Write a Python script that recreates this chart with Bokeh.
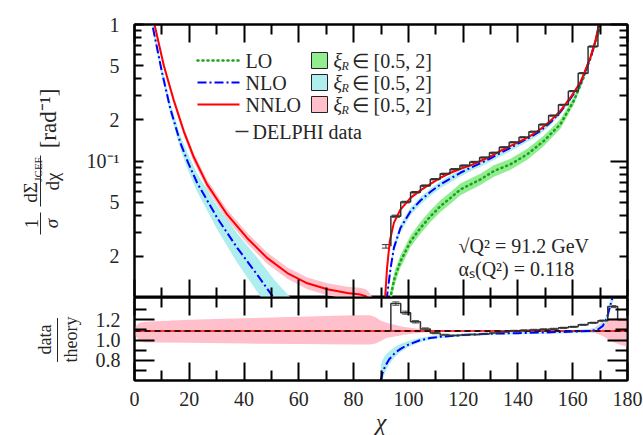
import math
from bokeh.plotting import figure
from bokeh.layouts import column, row
from bokeh.models import (Range1d, FixedTicker, LogAxis, LinearAxis, Label, Whisker, TeeHead,
                          ColumnDataSource, Arrow, BoxAnnotation)
from bokeh.embed import file_html
from bokeh.resources import INLINE

FONT = "Liberation Serif"
TXT = "#262626"

LO_COL, NLO_COL, NNLO_COL = "#1f9e1f", "#0000ff", "#ff0000"
LO_BAND, NLO_BAND, NNLO_BAND = "#90ee90", "#afeeee", "#ffc0cb"

# ---------------- ticks ----------------
x_ticks = [0, 20, 40, 60, 80, 100, 120, 140, 160, 180]
x_minor = [10, 30, 50, 70, 90, 110, 130, 150, 170]
y_ticks = [0.02, 0.05, 0.1, 0.2, 0.5, 1.0]
y_tick_labels = ["2", "5", "10⁻¹", "2", "5", "1"]
y_minor = [0.01, 0.03, 0.04, 0.06, 0.07, 0.08, 0.09, 0.3, 0.4, 0.6, 0.7, 0.8, 0.9]
y_decades = [0.01, 0.1, 1.0]
y_sub = [0.02, 0.03, 0.04, 0.05, 0.06, 0.07, 0.08, 0.09, 0.2, 0.3, 0.4, 0.5, 0.6, 0.7, 0.8, 0.9]
r_ticks = [0.8, 1.0, 1.2]
r_tick_labels = ["0.8", "1.0", "1.2"]
r_minor = [0.7, 0.9, 1.1, 1.3]

# ---------------- legend texts ----------------
line_labels = ["LO", "NLO", "NNLO"]
band_label = "∈ [0.5, 2]"
data_label = "DELPHI data"

# ---------------- main panel: left branch ----------------
nnlo_l_x = [6.0, 7.3, 10.7, 14.3, 18.0, 21.7, 26.5, 33.8, 41.1, 48.4, 55.8, 63.1, 70.4, 77.7, 82.5, 84.5, 86.0, 87.5]
nnlo_l_y = [1.25, 1.0, 0.50, 0.28, 0.165, 0.106, 0.0674, 0.0406, 0.0273, 0.0195, 0.0151, 0.0127, 0.0115, 0.0108, 0.0105, 0.0102, 0.0095, 0.0085]
nnlo_l_lo = [1.18, 0.95, 0.472, 0.263, 0.154, 0.098, 0.0620, 0.0372, 0.0249, 0.0177, 0.0137, 0.0115, 0.0104, 0.0097, 0.0093, 0.0088, 0.0080, 0.0070]
nnlo_l_hi = [1.32, 1.05, 0.530, 0.298, 0.177, 0.114, 0.0730, 0.0442, 0.0298, 0.0214, 0.0166, 0.0140, 0.0127, 0.0120, 0.0118, 0.0115, 0.0107, 0.0095]

nlo_l_x = [5.3, 6.5, 10.0, 13.0, 16.8, 19.5, 22.9, 30.2, 37.5, 44.8, 50.9, 53.0, 57.0]
nlo_l_y = [1.25, 1.0, 0.45, 0.245, 0.135, 0.098, 0.0690, 0.0383, 0.0231, 0.0147, 0.0099, 0.0088, 0.0072]
nlo_l_lo = [1.15, 0.93, 0.415, 0.224, 0.121, 0.086, 0.0595, 0.0315, 0.0180, 0.0110, 0.0072, 0.0063, 0.0050]
nlo_l_hi = [1.36, 1.08, 0.490, 0.270, 0.152, 0.113, 0.0805, 0.0470, 0.0295, 0.0196, 0.0136, 0.0122, 0.0100]

# ---------------- main panel: right branch ----------------
nnlo_r_x = [91.3, 92.2, 93.2, 94.7, 97.1, 100.8, 104.4, 108.1, 111.7, 115.4, 119.0, 122.7, 126.3, 130.0,
            133.6, 137.3, 140.9, 144.6, 148.2, 151.9, 155.5, 159.2, 162.8, 166.5, 168.3, 169.5, 170.5]
nnlo_r_y = [0.0085, 0.0164, 0.0258, 0.0352, 0.0441, 0.0537, 0.0609, 0.0681, 0.0754, 0.0820, 0.0878, 0.0929,
            0.100, 0.108, 0.1185, 0.129, 0.140, 0.153, 0.171, 0.197, 0.233, 0.292, 0.377, 0.575, 0.762, 0.98, 1.2]
nnlo_r_lo = [0.0082, 0.0159, 0.0251, 0.0344, 0.0432, 0.0527, 0.0598, 0.0670, 0.0742, 0.0808, 0.0865, 0.0916,
             0.0986, 0.1065, 0.1169, 0.1272, 0.1381, 0.1510, 0.1688, 0.1945, 0.230, 0.288, 0.372, 0.567, 0.752, 0.967, 1.18]
nnlo_r_hi = [0.0088, 0.0169, 0.0265, 0.0360, 0.0450, 0.0547, 0.0620, 0.0692, 0.0766, 0.0832, 0.0891, 0.0942,
             0.1014, 0.1095, 0.1201, 0.1308, 0.1419, 0.1550, 0.1732, 0.1995, 0.236, 0.296, 0.382, 0.583, 0.772, 0.993, 1.22]

nlo_r_x = [92.0, 93.5, 94.7, 97.1, 100.8, 104.4, 108.1, 111.7, 115.4, 119.0, 122.7, 126.3, 130.0, 133.6,
           137.3, 140.9, 144.6, 148.2, 151.9, 155.5, 159.2, 162.8, 166.5, 168.3, 169.6, 170.6]
nlo_r_y = [0.0095, 0.0164, 0.0231, 0.0323, 0.0429, 0.0514, 0.0595, 0.0673, 0.0746, 0.0820, 0.0893, 0.0962,
           0.1047, 0.1145, 0.125, 0.137, 0.150, 0.166, 0.192, 0.229, 0.287, 0.370, 0.565, 0.755, 0.98, 1.2]
nlo_r_lo = [0.0086, 0.0150, 0.0213, 0.0300, 0.0400, 0.0480, 0.0557, 0.0631, 0.0700, 0.0771, 0.0840, 0.0906,
            0.0987, 0.1080, 0.1180, 0.1295, 0.1420, 0.1575, 0.1825, 0.2180, 0.2740, 0.3540, 0.5430, 0.7270, 0.9450, 1.16]
nlo_r_hi = [0.0104, 0.0177, 0.0249, 0.0345, 0.0456, 0.0545, 0.0630, 0.0712, 0.0789, 0.0866, 0.0942, 0.1015,
            0.1104, 0.1207, 0.1317, 0.1443, 0.1578, 0.1745, 0.2015, 0.2400, 0.3005, 0.3870, 0.5900, 0.7850, 1.02, 1.24]

lo_r_x = [93.3, 95.0, 97.1, 100.8, 104.4, 108.1, 111.7, 115.4, 119.0, 122.7, 126.3, 131.2, 137.3, 143.4,
          149.4, 155.5, 160.4, 164.0, 167.7, 169.5, 170.4, 171.2]
lo_r_y = [0.0098, 0.0140, 0.0184, 0.0258, 0.0323, 0.0394, 0.0467, 0.0537, 0.0619, 0.0674, 0.0733, 0.0844,
          0.0946, 0.112, 0.140, 0.186, 0.276, 0.410, 0.681, 0.90, 1.05, 1.2]
lo_r_lo = [0.0085, 0.0124, 0.0165, 0.0234, 0.0293, 0.0357, 0.0423, 0.0487, 0.0562, 0.0612, 0.0666, 0.0767,
           0.0862, 0.1023, 0.1285, 0.1720, 0.2580, 0.3880, 0.655, 0.875, 1.03, 1.18]
lo_r_hi = [0.0110, 0.0157, 0.0204, 0.0285, 0.0357, 0.0436, 0.0516, 0.0593, 0.0683, 0.0743, 0.0808, 0.0930,
           0.1040, 0.1230, 0.1530, 0.2020, 0.2960, 0.4350, 0.710, 0.93, 1.08, 1.23]

# ---------------- DELPHI data ----------------
bin_edges = [90.0, 93.6, 97.2, 100.8, 104.4, 108.0, 111.6, 115.2, 118.8, 122.4, 126.0, 129.6, 133.2,
             136.8, 140.4, 144.0, 147.6, 151.2, 154.8, 158.4, 162.0, 165.6, 169.2, 172.8, 176.4, 180.0]
data_main = [0.0237, 0.0394, 0.050, 0.059, 0.066, 0.0735, 0.0805, 0.087, 0.0925, 0.0985, 0.106, 0.115,
             0.126, 0.137, 0.149, 0.164, 0.185, 0.215, 0.258, 0.325, 0.44, 0.69, 1.2, 2.0, 3.0]
data_main_err = [0.0007, 0.0007, 0.0007, 0.0008, 0.0008, 0.0009, 0.0009, 0.001, 0.001, 0.001, 0.001, 0.0012,
                 0.0013, 0.0014, 0.0015, 0.0016, 0.0018, 0.002, 0.0025, 0.003, 0.004, 0.006, 0.01, 0.02, 0.03]
data_ratio = [1.09, 1.36, 1.27, 1.18, 1.11, 1.07, 1.05, 1.045, 1.05, 1.055, 1.06, 1.07, 1.08, 1.09,
              1.095, 1.10, 1.105, 1.11, 1.12, 1.13, 1.15, 1.17, 1.19, 1.33, 1.20]
data_ratio_err = [0.04, 0.017, 0.015, 0.012, 0.01, 0.008, 0.007, 0.006, 0.006, 0.006, 0.006, 0.006, 0.006,
                  0.006, 0.006, 0.006, 0.006, 0.006, 0.006, 0.006, 0.006, 0.006, 0.008, 0.01, 0.012]

# ---------------- ratio panel ----------------
ratio_ref_x = [0, 180]
ratio_ref_y = [1.09, 1.09]
r_nnlo_x = [0, 1, 2, 4, 8, 20, 40, 60, 80, 86, 88, 90, 92, 95, 98, 102, 106, 110, 130, 150, 165, 168, 171, 174, 177, 180]
r_nnlo_lo = [1.05, 1.02, 0.99, 0.975, 0.975, 0.972, 0.965, 0.96, 0.955, 0.955, 0.965, 0.99, 1.02, 1.035, 1.05,
             1.065, 1.075, 1.082, 1.086, 1.086, 1.082, 1.07, 1.04, 0.99, 0.955, 0.93]
r_nnlo_hi = [1.12, 1.15, 1.17, 1.18, 1.185, 1.20, 1.215, 1.23, 1.245, 1.245, 1.225, 1.19, 1.17, 1.15, 1.13,
             1.115, 1.105, 1.10, 1.097, 1.097, 1.10, 1.12, 1.18, 1.215, 1.22, 1.22]
r_nlo_x = [89.9, 90.5, 91.5, 93.0, 95.0, 97.0, 100.0, 104.0, 108.0, 112.0, 120.0, 130.0, 140.0, 150.0,
           160.0, 166.0, 169.0, 171.0, 172.5, 173.5, 174.3, 175.0]
r_nlo_y = [0.60, 0.67, 0.74, 0.81, 0.87, 0.91, 0.955, 0.995, 1.02, 1.033, 1.05, 1.062, 1.068, 1.075,
           1.083, 1.09, 1.10, 1.14, 1.22, 1.32, 1.40, 1.45]
r_nlo_lo = [0.55, 0.60, 0.68, 0.76, 0.83, 0.88, 0.93, 0.975, 1.005, 1.02, 1.038, 1.050, 1.056, 1.062,
            1.068, 1.072, 1.08, 1.11, 1.18, 1.27, 1.35, 1.40]
r_nlo_hi = [0.75, 0.80, 0.85, 0.89, 0.93, 0.96, 0.99, 1.02, 1.04, 1.05, 1.063, 1.074, 1.080, 1.088,
            1.098, 1.108, 1.12, 1.17, 1.26, 1.37, 1.45, 1.50]


def style_axis(ax, tick_in, minor_in, labels):
    ax.axis_line_color = "black"
    ax.axis_line_width = 2
    ax.major_tick_line_color = "black"
    ax.major_tick_line_width = 2
    ax.minor_tick_line_color = "black"
    ax.minor_tick_line_width = 2
    ax.major_tick_in = tick_in
    ax.major_tick_out = 0
    ax.minor_tick_in = minor_in
    ax.minor_tick_out = 0
    if labels:
        ax.major_label_text_font = FONT
        ax.major_label_text_font_size = "20px"
        ax.major_label_text_color = TXT
    else:
        ax.major_label_text_font_size = "0px"
        ax.major_label_text_color = None
        ax.major_label_standoff = 0


def step_xy(edges, vals):
    xs = [edges[1]] + list(edges[1:])
    ys = list(vals) + [vals[-1]]
    return xs, ys


centers = [(a + b) / 2 for a, b in zip(bin_edges[:-1], bin_edges[1:])]

# page geometry (pixels)
LW = 82           # width of the side strip holding the y-axis titles
FL = 134          # frame left
MT = 24           # main frame top
MB = 297          # main frame bottom
RB = 380          # ratio frame bottom

# ================= main figure =================
p = figure(frame_width=493, frame_height=MB - MT, x_range=Range1d(0, 180), y_range=Range1d(0.01, 1.0),
           y_axis_type="log", output_backend="svg", toolbar_location=None,
           min_border_left=FL - LW, min_border_right=16, min_border_top=MT, min_border_bottom=0)
p.grid.visible = False
p.outline_line_color = "black"
p.outline_line_width = 2

p.xaxis.ticker = FixedTicker(ticks=x_ticks, minor_ticks=x_minor)
style_axis(p.xaxis[0], 18, 10, False)
p.yaxis.ticker = FixedTicker(ticks=y_ticks, minor_ticks=y_minor)
p.yaxis.major_label_overrides = {v: s for v, s in zip(y_ticks, y_tick_labels)}
style_axis(p.yaxis[0], 9, 7, True)
p.yaxis.major_label_standoff = 15

top_ax = LinearAxis(ticker=FixedTicker(ticks=x_ticks, minor_ticks=x_minor))
style_axis(top_ax, 18, 10, False)
p.add_layout(top_ax, "above")
right_ax = LogAxis(ticker=FixedTicker(ticks=y_decades, minor_ticks=y_sub))
style_axis(right_ax, 17, 8, False)
p.add_layout(right_ax, "right")

# bands
p.varea(x=nlo_l_x, y1=nlo_l_lo, y2=nlo_l_hi, fill_color=NLO_BAND)
p.varea(x=nnlo_l_x, y1=nnlo_l_lo, y2=nnlo_l_hi, fill_color=NNLO_BAND)
p.varea(x=lo_r_x, y1=lo_r_lo, y2=lo_r_hi, fill_color=LO_BAND)
p.varea(x=nlo_r_x, y1=nlo_r_lo, y2=nlo_r_hi, fill_color=NLO_BAND)
p.varea(x=nnlo_r_x, y1=nnlo_r_lo, y2=nnlo_r_hi, fill_color=NNLO_BAND)
# lines
p.line(lo_r_x, lo_r_y, line_color=LO_COL, line_width=2.5, line_dash="1 4", line_cap="round")
p.line(nlo_l_x, nlo_l_y, line_color=NLO_COL, line_width=2, line_dash="9 3 2 3")
p.line(nlo_r_x, nlo_r_y, line_color=NLO_COL, line_width=2, line_dash="9 3 2 3")
p.line(nnlo_l_x, nnlo_l_y, line_color=NNLO_COL, line_width=2)
p.line(nnlo_r_x, nnlo_r_y, line_color=NNLO_COL, line_width=2)
# data
sx, sy = step_xy(bin_edges, data_main)
p.step(sx, sy, mode="after", line_color="#333333", line_width=1.5)
dsrc = ColumnDataSource(dict(x=centers,
                             lo=[v - e for v, e in zip(data_main, data_main_err)],
                             hi=[v + e for v, e in zip(data_main, data_main_err)]))
p.add_layout(Whisker(source=dsrc, base="x", lower="lo", upper="hi", line_color="#333333", line_width=1,
                     upper_head=TeeHead(size=8, line_color="#333333"),
                     lower_head=TeeHead(size=8, line_color="#333333")))


def lab(fig, text, ax, ay, fb, size, angle=0.0, align="center", style="normal"):
    fig.add_layout(Label(x=ax - FL, y=fb - ay, x_units="screen", y_units="screen", text=text,
                         text_font=FONT, text_font_size=size, text_color=TXT, angle=angle,
                         text_align=align, text_baseline="middle", text_font_style=style))


def seg(fig, ax0, ay0, ax1, ay1, fb, color=TXT, width=1.0, dash="solid", cap="butt"):
    fig.add_layout(Arrow(end=None, x_start=ax0 - FL, y_start=fb - ay0, x_end=ax1 - FL, y_end=fb - ay1,
                         start_units="screen", end_units="screen", line_color=color, line_width=width,
                         line_dash=dash, line_cap=cap))


def square(fig, ax, ay, fb, color):
    fig.add_layout(BoxAnnotation(left=ax - FL, right=ax + 16 - FL, top=fb - (ay - 8), bottom=fb - (ay + 8),
                                 left_units="screen", right_units="screen", top_units="screen",
                                 bottom_units="screen", fill_color=color, fill_alpha=1.0,
                                 line_color="#222222", line_width=1, line_alpha=1.0))


# ----- legend (drawn by hand) -----
rows = [60, 82, 104]
seg(p, 197, rows[0], 239, rows[0], MB, LO_COL, 2.5, "1 4", "round")
seg(p, 197, rows[1], 239, rows[1], MB, NLO_COL, 2, "9 3 2 3")
seg(p, 197, rows[2], 239, rows[2], MB, NNLO_COL, 2)
for t, yy in zip(line_labels, rows):
    lab(p, t, 245, yy, MB, "20px", align="left")
for c, yy in zip([LO_BAND, NLO_BAND, NNLO_BAND], rows):
    square(p, 311, yy, MB, c)
    lab(p, "ξ", 333, yy, MB, "20px", align="left", style="italic")
    lab(p, "R", 341, yy + 5, MB, "12px", align="left", style="italic")
    lab(p, band_label, 351, yy, MB, "20px", align="left")
seg(p, 235, 131, 248, 131, MB, "#333333", 1.5)
lab(p, data_label, 252, 131, MB, "20px", align="left")

# physics parameters
lab(p, "√Q² = 91.2 GeV", 458, 245, MB, "20px", align="left")
lab(p, "αₛ(Q²) = 0.118", 458, 268, MB, "20px", align="left")

# ================= ratio figure =================
r = figure(frame_width=493, frame_height=RB - MB, x_range=p.x_range, y_range=Range1d(0.6, 1.42),
           output_backend="svg", toolbar_location=None,
           min_border_left=FL - LW, min_border_right=16, min_border_top=0, min_border_bottom=0)
r.grid.visible = False
r.outline_line_color = "black"
r.outline_line_width = 2
r.xaxis.ticker = FixedTicker(ticks=x_ticks, minor_ticks=x_minor)
style_axis(r.xaxis[0], 18, 10, True)
r.xaxis.major_label_standoff = 11
r.xaxis.axis_label = "χ"
r.xaxis.axis_label_text_font = FONT
r.xaxis.axis_label_text_font_size = "24px"
r.xaxis.axis_label_text_font_style = "italic"
r.xaxis.axis_label_text_color = TXT
r.xaxis.axis_label_standoff = 0
r.yaxis.ticker = FixedTicker(ticks=r_ticks, minor_ticks=r_minor)
r.yaxis.major_label_overrides = {v: s for v, s in zip(r_ticks, r_tick_labels)}
style_axis(r.yaxis[0], 20, 12, True)
r.yaxis.major_label_standoff = 14
rt = LinearAxis(ticker=FixedTicker(ticks=x_ticks, minor_ticks=x_minor))
style_axis(rt, 18, 10, False)
r.add_layout(rt, "above")
rr = LinearAxis(ticker=FixedTicker(ticks=r_ticks, minor_ticks=r_minor))
style_axis(rr, 20, 12, False)
r.add_layout(rr, "right")

r.varea(x=r_nnlo_x, y1=r_nnlo_lo, y2=r_nnlo_hi, fill_color=NNLO_BAND)
r.varea(x=r_nlo_x, y1=r_nlo_lo, y2=r_nlo_hi, fill_color=NLO_BAND)
r.line(ratio_ref_x, ratio_ref_y, line_color=NNLO_COL, line_width=1.5)
r.line(ratio_ref_x, ratio_ref_y, line_color="black", line_width=1.5, line_dash="6 4")
r.line(r_nlo_x, r_nlo_y, line_color=NLO_COL, line_width=2, line_dash="9 3 2 3")
rx, ry = step_xy(bin_edges, data_ratio)
r.step(rx, ry, mode="after", line_color="#333333", line_width=1.5)
rsrc = ColumnDataSource(dict(x=centers,
                             lo=[v - e for v, e in zip(data_ratio, data_ratio_err)],
                             hi=[v + e for v, e in zip(data_ratio, data_ratio_err)]))
r.add_layout(Whisker(source=rsrc, base="x", lower="lo", upper="hi", line_color="#555555", line_width=1,
                     upper_head=TeeHead(size=7, line_color="#555555"),
                     lower_head=TeeHead(size=7, line_color="#555555")))


# ================= side strips with the y-axis titles =================
# each strip's frame is aligned with its neighbour's frame, so its y range
# spans the page rows of that frame (top row at the top)
def strip(h, y_bottom, y_top):
    f = figure(width=LW, height=h, x_range=Range1d(0, LW), y_range=Range1d(y_bottom, y_top),
               x_axis_location=None, y_axis_location=None, output_backend="svg",
               toolbar_location=None, min_border=0)
    f.grid.visible = False
    f.outline_line_color = None
    return f


def slab(fig, text, x, y, size, style="normal"):
    fig.add_layout(Label(x=x, y=y, text=text, text_font=FONT, text_font_size=size, text_color=TXT,
                         angle=math.pi / 2, text_align="center", text_baseline="middle",
                         text_font_style=style))


def sbar(fig, x, y0, y1):
    fig.add_layout(Arrow(end=None, x_start=x, y_start=y0, x_end=x, y_end=y1,
                         line_color=TXT, line_width=1))


sm = strip(MB, MB, MT)
slab(sm, "1", 31, 223, "18px")
sbar(sm, 40, 212, 234)
slab(sm, "σ", 51, 223, "19px", "italic")
slab(sm, "dΣ", 30, 192, "19px")
slab(sm, "JCEF", 37, 169, "11px")
sbar(sm, 40, 155, 206)
slab(sm, "dχ", 52, 181, "19px")
slab(sm, "[rad⁻¹]", 48, 118, "23px")

sr = strip(435 - MB, RB, MB)
slab(sr, "data", 44, 340, "18px")
sbar(sr, 57, 318, 363)
slab(sr, "theory", 70, 340, "18px")

layout = column(row(sm, p, spacing=0), row(sr, r, spacing=0), spacing=0)
open("out.html", "w").write(file_html(layout, INLINE, title="JCEF"))
